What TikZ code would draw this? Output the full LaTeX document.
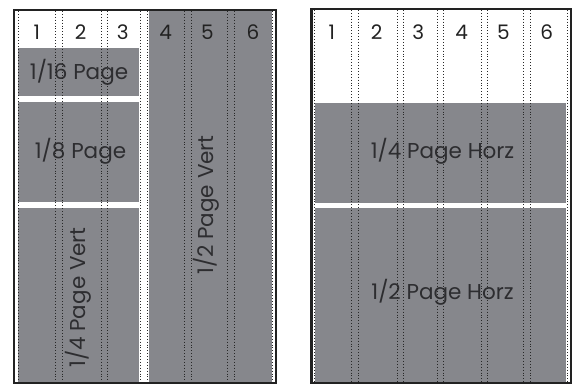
\documentclass[tikz,border=0pt]{standalone}
\usepackage{fontspec}
\setmainfont{Poppins}
\definecolor{adgray}{RGB}{134,135,140}
\definecolor{dotc}{RGB}{40,40,40}
\definecolor{frmc}{RGB}{34,34,34}
\definecolor{txtc}{RGB}{45,45,48}
\tikzset{
  blk/.style={fill=adgray, draw=none},
  guide/.style={draw=dotc, line width=0.9pt, dash pattern=on 0.9pt off 2pt},
  frm/.style={draw=frmc, line width=2.5pt},
  lbl/.style={text=txtc, inner sep=0pt, font=\fontsize{21.5}{24}\selectfont},
  num/.style={text=frmc, inner sep=0pt, font=\fontsize{20}{22}\selectfont}
}
\begin{document}
\begin{tikzpicture}[x=1pt,y=-1pt]
\useasboundingbox (0,0) rectangle (577,384);
% left panel blocks
\fill[blk] (18,47.7) rectangle (138.5,96);
\fill[blk] (18,102) rectangle (138.5,201.7);
\fill[blk] (18,207.7) rectangle (138.5,381.5);
\fill[blk] (149,11) rectangle (271.7,381.5);
% right panel blocks
\fill[blk] (315,102.7) rectangle (566,202.7);
\fill[blk] (315,207.7) rectangle (566,381.5);
% column numbers
\node[num] (l1) at (36.7,32) {1};
\node[num] (l2) at (80.5,32) {2};
\node[num] (l3) at (122.7,32) {3};
\node[num] (l4) at (165.7,32) {4};
\node[num] (l5) at (207.5,32) {5};
\node[num] (l6) at (253,32) {6};
\node[num] (r1) at (331.7,32) {1};
\node[num] (r2) at (376.7,32) {2};
\node[num] (r3) at (418.3,32) {3};
\node[num] (r4) at (461.7,32) {4};
\node[num] (r5) at (503.3,32) {5};
\node[num] (r6) at (546.7,32) {6};
% labels
\node[lbl] (p16) at (79,72) {1/16 Page};
\node[lbl] (p8) at (80.5,151) {1/8 Page};
\node[lbl, rotate=90] (p4v) at (78.5,297.5) {1/4 Page Vert};
\node[lbl, rotate=90] (p2v) at (206.5,205) {1/2 Page Vert};
\node[lbl] (p4h) at (442.5,151) {1/4 Page Horz};
\node[lbl] (p2h) at (442.5,292) {1/2 Page Horz};
% guides
\foreach \gx in {18,55.5,62,101,107,140.5,147,184,191.5,227.5,234.5,272}
  \draw[guide] (\gx,11) -- (\gx,381.5);
\foreach \gx in {314,351,358,397,403.5,437,443.5,481,487.5,523.5,530.5,567}
  \draw[guide] (\gx,10) -- (\gx,381.5);
% frames
\draw[frm] (13.75,9.75) rectangle (275.75,382.75);
\draw[frm] (311.25,8.75) rectangle (570.75,382.75);
\end{tikzpicture}
\end{document}
